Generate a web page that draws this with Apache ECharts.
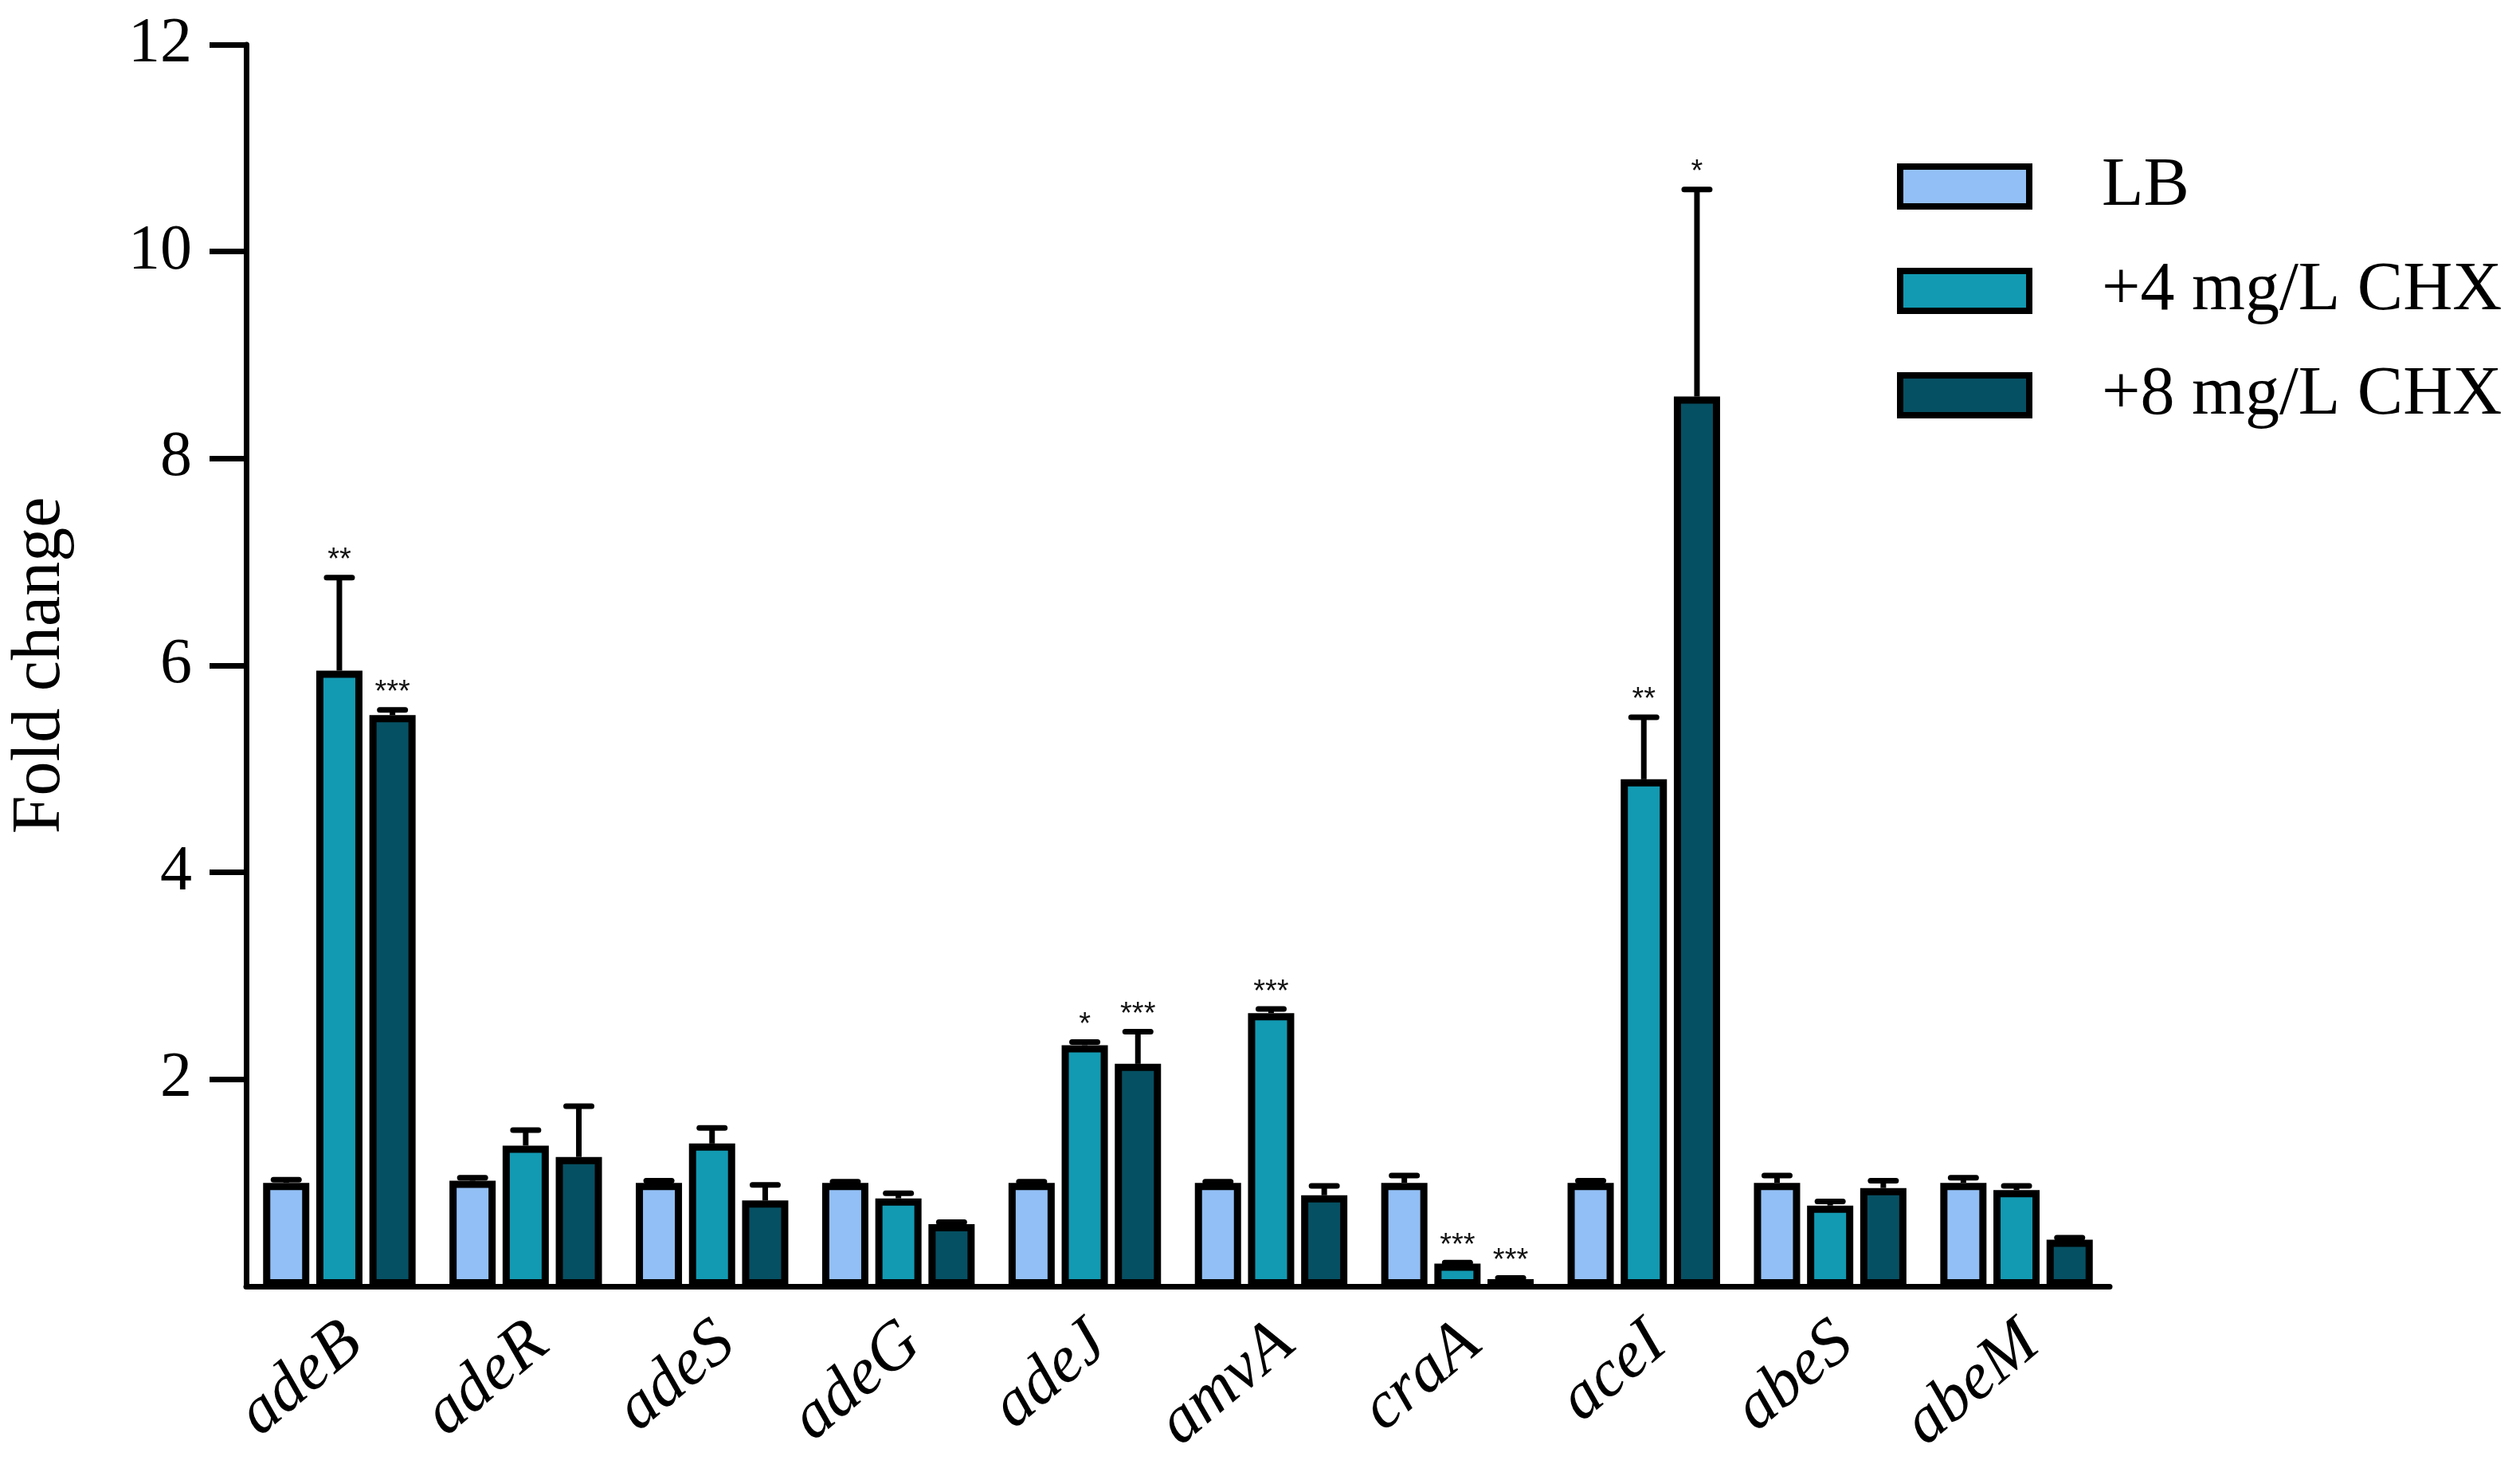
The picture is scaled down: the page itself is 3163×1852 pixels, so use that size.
<!DOCTYPE html>
<html>
<head>
<meta charset="utf-8">
<script src="https://cdn.jsdelivr.net/npm/echarts@6/dist/echarts.min.js"></script>
<style>
html,body{margin:0;padding:0;background:#fff;}
#chart{width:3163px;height:1852px;}
</style>
</head>
<body>
<div id="chart"></div>
<script>
// ---- data ----
const genes = ['adeB','adeR','adeS','adeG','adeJ','amvA','craA','aceI','abeS','abeM'];
const seriesNames = ['LB','+4 mg/L CHX','+8 mg/L CHX'];
const lbValues   = [1.00, 1.02, 1.00, 1.00, 1.00, 1.00, 1.00, 1.00, 1.00, 1.00];
const chx4Values = [5.95, 1.36, 1.38, 0.85, 2.33, 2.64, 0.22, 4.90, 0.78, 0.93];
const chx8Values = [5.52, 1.25, 0.83, 0.60, 2.15, 0.88, 0.07, 8.60, 0.95, 0.45];
const lbErr      = [0.03, 0.03, 0.02, 0.01, 0.01, 0.01, 0.07, 0.02, 0.07, 0.05];
const chx4Err    = [0.90, 0.15, 0.15, 0.05, 0.03, 0.04, 0.01, 0.60, 0.04, 0.04];
const chx8Err    = [0.05, 0.49, 0.15, 0.02, 0.31, 0.09, 0.01, 2.00, 0.07, 0.02];
const lbStars    = ['', '', '', '', '', '', '', '', '', ''];
const chx4Stars  = ['**', '', '', '', '*', '***', '***', '**', '', ''];
const chx8Stars  = ['***', '', '', '', '***', '', '***', '*', '', ''];
const yTicks = [2, 4, 6, 8, 10, 12];

// ---- style ----
const FONT = '"Liberation Serif", "Times New Roman", serif';
const COLORS = ['#92BFF5', '#129AB2', '#065063'];
const BAR_W = 58;
const BAR_GAP = 0.15;
const BORDER = 9;

const values = [lbValues, chx4Values, chx8Values];
const errs = [lbErr, chx4Err, chx8Err];
const stars = [lbStars, chx4Stars, chx8Stars];

const chart = echarts.init(document.getElementById('chart'), null, {renderer: 'canvas'});

const barSeries = seriesNames.map((name, k) => ({
  name: name,
  type: 'bar',
  data: values[k],
  barWidth: BAR_W,
  barGap: (BAR_GAP * 100) + '%',
  itemStyle: {color: COLORS[k], borderColor: '#000', borderWidth: BORDER},
  z: 2
}));

const errSeries = seriesNames.map((name, k) => ({
  type: 'custom',
  name: 'err' + k,
  z: 3,
  silent: true,
  data: genes.map((g, i) => [i, values[k][i], values[k][i] + errs[k][i], stars[k][i]]),
  encode: {x: 0, y: [1, 2]},
  renderItem: function (params, api) {
    const i = api.value(0);
    const offset = (k - 1) * BAR_W * (1 + BAR_GAP);
    const base = api.coord([i, api.value(1)]);
    const top = api.coord([i, api.value(2)]);
    const x = base[0] + offset;
    const children = [];
    if (base[1] - top[1] > 1) {
      children.push({
        type: 'line',
        shape: {x1: x, y1: base[1], x2: x, y2: top[1]},
        style: {stroke: '#000', lineWidth: 7}
      });
    }
    children.push({
      type: 'line',
      shape: {x1: x - 16, y1: top[1], x2: x + 16, y2: top[1]},
      style: {stroke: '#000', lineWidth: 7, lineCap: 'round'}
    });
    const s = stars[k][i];
    if (s) {
      children.push({
        type: 'text',
        style: {
          x: x, y: top[1] - 2,
          text: s,
          fill: '#111',
          font: '38px "Liberation Sans", Arial, sans-serif',
          align: 'center',
          verticalAlign: 'bottom'
        }
      });
    }
    return {type: 'group', children: children};
  }
}));

chart.setOption({
  animation: false,
  backgroundColor: '#fff',
  grid: {left: 309, right: 515, top: 56, bottom: 238, containLabel: false},
  legend: {
    data: seriesNames,
    orient: 'vertical',
    left: 2376,
    top: 186,
    icon: 'rect',
    itemWidth: 162,
    itemHeight: 50,
    itemGap: 45,
    itemStyle: {borderColor: '#000', borderWidth: 8},
    textStyle: {fontFamily: FONT, fontSize: 86, color: '#000', padding: [0, 0, 0, 86]}
  },
  xAxis: {
    type: 'category',
    data: genes,
    axisLine: {lineStyle: {color: '#000', width: 7}},
    axisTick: {show: false},
    axisLabel: {
      interval: 0,
      rotate: 40,
      margin: 40,
      verticalAlign: 'top',
      lineHeight: 56,
      fontFamily: FONT,
      fontStyle: 'italic',
      fontSize: 84,
      color: '#000'
    },
    splitLine: {show: false}
  },
  yAxis: {
    type: 'value',
    min: 0,
    max: 12,
    interval: 2,
    name: 'Fold change',
    nameLocation: 'middle',
    nameGap: 215,
    nameRotate: 90,
    nameTextStyle: {fontFamily: FONT, fontSize: 86, color: '#000'},
    axisLine: {show: true, lineStyle: {color: '#000', width: 7}},
    axisTick: {show: true, length: 46, lineStyle: {color: '#000', width: 7}, customValues: yTicks},
    axisLabel: {
      margin: 68,
      fontFamily: FONT,
      fontSize: 80,
      color: '#000',
      customValues: yTicks
    },
    splitLine: {show: false}
  },
  series: barSeries.concat(errSeries)
});
</script>
</body>
</html>
